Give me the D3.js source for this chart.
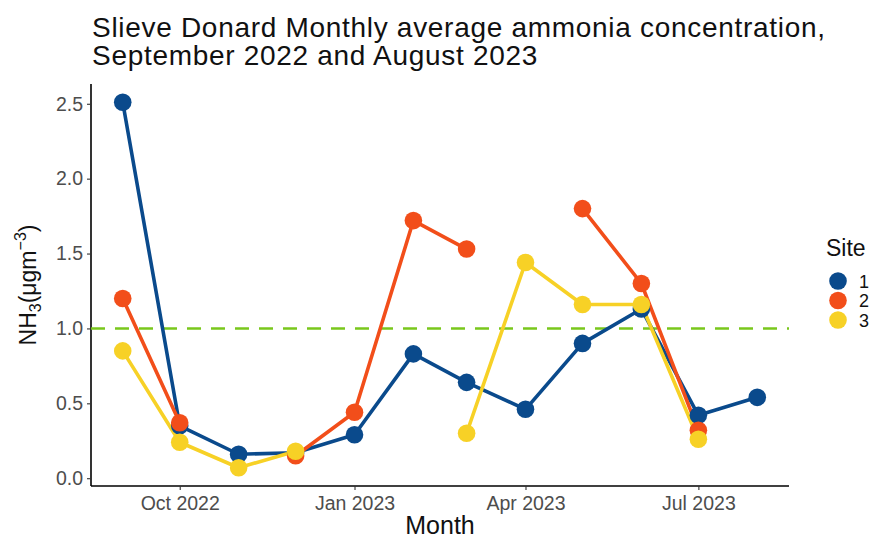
<!DOCTYPE html>
<html>
<head>
<meta charset="utf-8">
<script src="https://cdn.jsdelivr.net/npm/d3@7"></script>
<style>
  body { margin: 0; background: #fff; }
  svg { display: block; font-family: "Liberation Sans", Arial, sans-serif; }
</style>
</head>
<body>
<svg id="chart" width="870" height="538"></svg>
<script>
const months = ["2022-09-01","2022-10-01","2022-11-01","2022-12-01","2023-01-01","2023-02-01",
                "2023-03-01","2023-04-01","2023-05-01","2023-06-01","2023-07-01","2023-08-01"];
const site1 = [2.51, 0.35, 0.16, 0.17, 0.29, 0.83, 0.64, 0.46, 0.90, 1.13, 0.42, 0.54];
const site2 = [1.20, 0.37, null, 0.15, 0.44, 1.72, 1.53, null, 1.80, 1.30, 0.32, null];
const site3 = [0.85, 0.24, 0.07, 0.18, null, null, 0.30, 1.44, 1.16, 1.16, 0.26, null];
const siteNames = ["1", "2", "3"];
const siteColors = ["#0a4a8c", "#f24e1a", "#f7d126"];
const threshold = 1.0;
const xTicks = ["2022-10-01", "2023-01-01", "2023-04-01", "2023-07-01"];
const yTicks = [0, 0.5, 1.0, 1.5, 2.0, 2.5];

(function () {
const parse = d3.timeParse("%Y-%m-%d");
const dates = months.map(parse);
const series = [site1, site2, site3].map((vals, i) => ({
  name: siteNames[i], color: siteColors[i],
  values: vals.map((v, j) => ({ date: dates[j], value: v }))
}));

const svg = d3.select("#chart");
const pL = 91, pR = 789, pT = 84, pB = 486;

// ggplot-like 5% expansion
const dExt = d3.extent(dates);
const dSpan = dExt[1] - dExt[0];
const x = d3.scaleTime()
  .domain([new Date(+dExt[0] - 0.05 * dSpan), new Date(+dExt[1] + 0.05 * dSpan)])
  .range([pL, pR]);
const allVals = [site1, site2, site3].flat().filter(v => v != null);
const vExt = d3.extent(allVals);
const vSpan = vExt[1] - vExt[0];
const y = d3.scaleLinear()
  .domain([vExt[0] - 0.05 * vSpan, vExt[1] + 0.05 * vSpan])
  .range([pB, pT]);

// Title
svg.append("text").attr("x", 92).attr("y", 36.5)
  .attr("font-size", 28).attr("letter-spacing", 0.7).attr("fill", "#111")
  .text("Slieve Donard Monthly average ammonia concentration,");
svg.append("text").attr("x", 92).attr("y", 65)
  .attr("font-size", 28).attr("letter-spacing", 0.7).attr("fill", "#111")
  .text("September 2022 and August 2023");

// Axes
const xAxis = d3.axisBottom(x).tickValues(xTicks.map(parse))
  .tickFormat(d3.timeFormat("%b %Y")).tickSizeOuter(0).tickSize(4).tickPadding(6);
const gx = svg.append("g").attr("transform", `translate(0,${pB})`).call(xAxis);
const yAxis = d3.axisLeft(y).tickValues(yTicks)
  .tickFormat(d3.format(".1f")).tickSizeOuter(0).tickSize(4).tickPadding(4);
const gy = svg.append("g").attr("transform", `translate(${pL},0)`).call(yAxis);
[gx, gy].forEach(g => {
  g.select(".domain").attr("stroke", "#000").attr("stroke-width", 1.6);
  g.selectAll(".tick line").attr("stroke", "#333").attr("stroke-width", 1.1);
  g.selectAll(".tick text").attr("fill", "#4d4d4d").attr("font-size", 19.5)
    .attr("font-family", "Liberation Sans, Arial, sans-serif");
});
gy.select(".domain").attr("d", `M0,${pT}V${pB}`);
gx.select(".domain").attr("d", `M${pL},0H${pR}`);

// Axis titles
svg.append("text").attr("x", 440).attr("y", 534)
  .attr("text-anchor", "middle").attr("font-size", 25).attr("fill", "#111").text("Month");
const yl = svg.append("text")
  .attr("transform", `translate(36,${(pT + pB) / 2}) rotate(-90)`)
  .attr("text-anchor", "middle").attr("font-size", 23).attr("fill", "#111");
yl.append("tspan").text("NH");
yl.append("tspan").attr("font-size", 16).attr("dy", 5).text("3");
yl.append("tspan").attr("dy", -5).text("(μgm");
yl.append("tspan").attr("font-size", 16).attr("dy", -10).text("−3");
yl.append("tspan").attr("dy", 10).text(")");

// Threshold line
svg.append("line")
  .attr("x1", pL).attr("x2", pR)
  .attr("y1", y(threshold)).attr("y2", y(threshold))
  .attr("stroke", "#79c71c").attr("stroke-width", 2.4)
  .attr("stroke-dasharray", "14,10");

// Lines
const line = d3.line().defined(d => d.value != null)
  .x(d => x(d.date)).y(d => y(d.value));
svg.append("g").selectAll("path").data(series).join("path")
  .attr("d", s => line(s.values))
  .attr("fill", "none").attr("stroke", s => s.color)
  .attr("stroke-width", 3.6).attr("stroke-linejoin", "round");

// Points
series.forEach(s => {
  svg.append("g").selectAll("circle")
    .data(s.values.filter(d => d.value != null)).join("circle")
    .attr("cx", d => x(d.date)).attr("cy", d => y(d.value))
    .attr("r", 8.8).attr("fill", s.color);
});

// Legend
const lg = svg.append("g");
lg.append("text").attr("x", 826).attr("y", 256).attr("font-size", 23)
  .attr("fill", "#111").text("Site");
series.forEach((s, i) => {
  const cy = 281 + i * 19.5;
  lg.append("circle").attr("cx", 838).attr("cy", cy).attr("r", 8.8).attr("fill", s.color);
  lg.append("text").attr("x", 859).attr("y", cy + 6.5).attr("font-size", 18)
    .attr("fill", "#111").text(s.name);
});
})();
</script>
</body>
</html>
